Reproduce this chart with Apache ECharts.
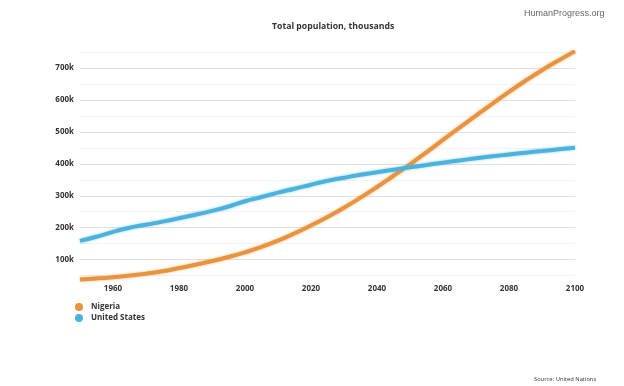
<!DOCTYPE html>
<html><head><meta charset="utf-8">
<script src="https://cdn.jsdelivr.net/npm/echarts@6/dist/echarts.min.js"></script>
<style>html,body{margin:0;padding:0;background:#fff}#c{width:624px;height:386px}</style>
</head><body><div id="c"></div>
<script>
var years = [1950,1955,1960,1965,1970,1975,1980,1985,1990,1995,2000,2005,2010,2015,2020,2025,2030,2035,2040,2045,2050,2055,2060,2065,2070,2075,2080,2085,2090,2095,2100];
var nigeria = [37860,41120,45210,50240,56130,63370,73700,83900,95620,108420,122880,139610,159430,182200,206830,233560,262600,294000,327400,362600,398500,436000,475000,513000,551000,588500,625000,660000,693000,723500,752200];
var unitedStates = [158800,171700,186800,199800,209500,219000,229600,240700,252800,266300,282900,296100,309900,321800,334500,346800,356400,365500,373600,381600,388900,396200,403500,410500,417100,423400,429300,434900,440100,445300,450400];
var xTicks = [1960,1980,2000,2020,2040,2060,2080,2100];
var yTicks = [100000,200000,300000,400000,500000,600000,700000];
var yGrid = [50000,100000,150000,200000,250000,300000,350000,400000,450000,500000,550000,600000,650000,700000,750000];

function pairs(v){ return years.map(function(y,i){ return [y, v[i]]; }); }
var F = '"Open Sans", "Noto Sans", sans-serif';
var chart = echarts.init(document.getElementById('c'), null, {renderer:'canvas'});
chart.setOption({
  animation:false,
  backgroundColor:'#fff',
  title:[
    {text:'Total population, thousands', left:267, top:17, textStyle:{fontFamily:F, fontSize:8.7, fontWeight:'bold', color:'#333'}},
    {text:'HumanProgress.org', left:519, top:4, textStyle:{fontFamily:'"Liberation Sans", Arial, sans-serif', fontSize:9, fontWeight:'normal', color:'#666'}},
    {text:'Source: United Nations', left:529, top:371, textStyle:{fontFamily:F, fontSize:5.8, fontWeight:'normal', color:'#333'}}
  ],
  legend:{
    orient:'vertical', left:70, top:298, itemGap:3, itemWidth:8, itemHeight:8, icon:'circle',
    textStyle:{fontFamily:F, fontSize:8, fontWeight:'bold', color:'#333', padding:[0,0,0,3]},
    data:['Nigeria','United States']
  },
  grid:{left:80, right:49, top:52, height:230, containLabel:false},
  xAxis:{
    type:'value', min:1950, max:2100,
    axisLine:{show:false}, axisTick:{show:false}, splitLine:{show:false},
    axisLabel:{customValues:xTicks, margin:3, fontFamily:F, fontSize:8, fontWeight:'bold', color:'#333', formatter:function(v){return String(v);}}
  },
  yAxis:{
    type:'value', min:30000, max:750000,
    axisLine:{show:false},
    axisTick:{show:false, customValues:yGrid},
    axisLabel:{customValues:yTicks, margin:6, fontFamily:F, fontSize:8, fontWeight:'bold', color:'#333', formatter:function(v){return (v/1000)+'k';}},
    splitLine:{show:true, lineStyle:{color:['#f2f2f2','#e0e0e0'], width:1}}
  },
  series:[
    {name:'Nigeria', type:'line', data:pairs(nigeria), smooth:true, showSymbol:false, color:'#E8923F',
     lineStyle:{width:4, color:'#E8943F', shadowColor:'rgba(232,146,63,0.6)', shadowBlur:3}},
    {name:'United States', type:'line', data:pairs(unitedStates), smooth:true, showSymbol:false, color:'#4BB2DD',
     lineStyle:{width:4, color:'#4BB2DD', shadowColor:'rgba(75,178,221,0.6)', shadowBlur:3}}
  ]
});
</script></body></html>
